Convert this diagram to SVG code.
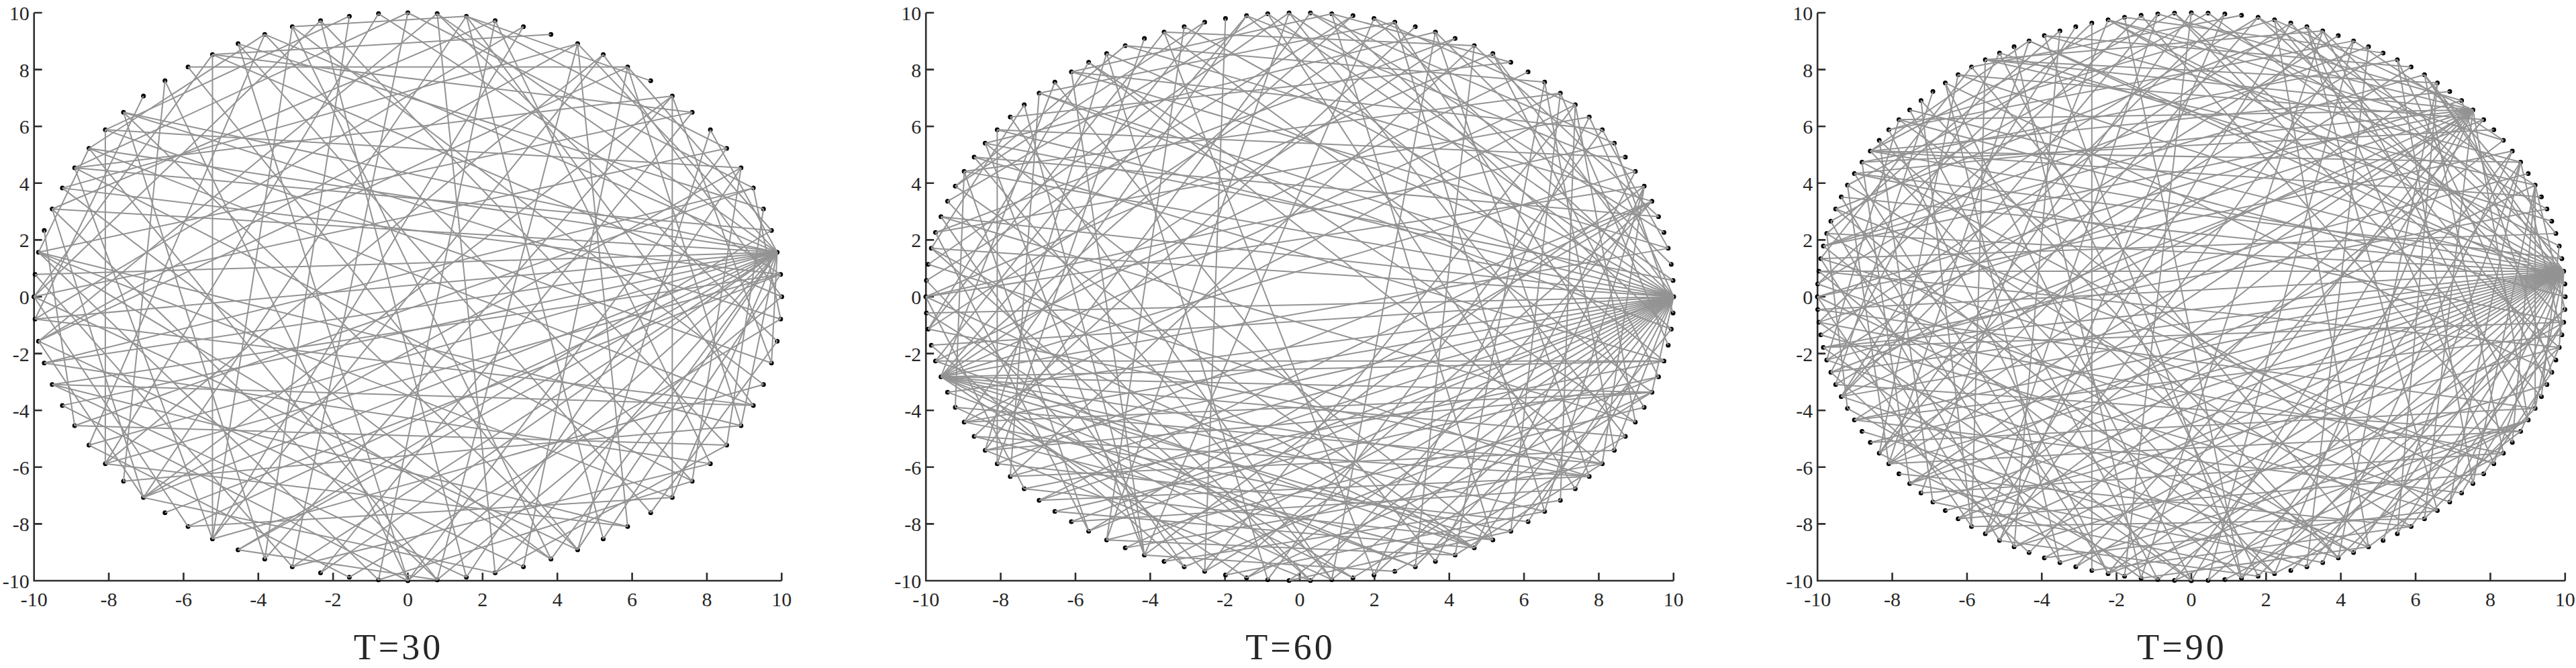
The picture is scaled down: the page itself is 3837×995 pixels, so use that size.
<svg xmlns="http://www.w3.org/2000/svg" width="3837" height="995" viewBox="0 0 3837 995">
<style>
path{vector-effect:non-scaling-stroke}
.ax{fill:none;stroke:#2e2e2e;stroke-width:2.6}
.e{fill:none;stroke:#939393;stroke-width:2}
.n{fill:none;stroke:#000;stroke-width:7;stroke-linecap:round}
.tk{font-family:"Liberation Serif","Times New Roman",serif;font-size:30px;fill:#262626}
.yl{text-anchor:end}
.xl{text-anchor:middle}
.ti{font-family:"Liberation Serif","Times New Roman",serif;font-size:54px;fill:#262626;letter-spacing:4px;text-anchor:middle}
</style>
<defs>
<path id="d" d="M1 0h0"/>
<path id="a1" d="M1 0L.99692 .07846"/><path id="a2" d="M1 0L.98769 .15643"/><path id="a3" d="M1 0L.97237 .23345"/><path id="a4" d="M1 0L.95106 .30902"/><path id="a5" d="M1 0L.92388 .38268"/><path id="a6" d="M1 0L.89101 .45399"/><path id="a7" d="M1 0L.85264 .52250"/><path id="a8" d="M1 0L.80902 .58779"/><path id="a9" d="M1 0L.76041 .64945"/><path id="a10" d="M1 0L.70711 .70711"/>
<path id="a11" d="M1 0L.64945 .76041"/><path id="a12" d="M1 0L.58779 .80902"/><path id="a13" d="M1 0L.52250 .85264"/><path id="a14" d="M1 0L.45399 .89101"/><path id="a15" d="M1 0L.38268 .92388"/><path id="a16" d="M1 0L.30902 .95106"/><path id="a17" d="M1 0L.23345 .97237"/><path id="a18" d="M1 0L.15643 .98769"/><path id="a19" d="M1 0L.07846 .99692"/><path id="a20" d="M1 0L0 1"/>
<path id="a21" d="M1 0L-.07846 .99692"/><path id="a22" d="M1 0L-.15643 .98769"/><path id="a23" d="M1 0L-.23345 .97237"/><path id="a24" d="M1 0L-.30902 .95106"/><path id="a25" d="M1 0L-.38268 .92388"/><path id="a26" d="M1 0L-.45399 .89101"/><path id="a27" d="M1 0L-.52250 .85264"/><path id="a28" d="M1 0L-.58779 .80902"/><path id="a29" d="M1 0L-.64945 .76041"/><path id="a30" d="M1 0L-.70711 .70711"/>
<path id="a31" d="M1 0L-.76041 .64945"/><path id="a32" d="M1 0L-.80902 .58779"/><path id="a33" d="M1 0L-.85264 .52250"/><path id="a34" d="M1 0L-.89101 .45399"/><path id="a35" d="M1 0L-.92388 .38268"/><path id="a36" d="M1 0L-.95106 .30902"/><path id="a37" d="M1 0L-.97237 .23345"/><path id="a38" d="M1 0L-.98769 .15643"/><path id="a39" d="M1 0L-.99692 .07846"/><path id="a40" d="M1 0L-1 0"/>
<path id="b1" d="M1 0L.99837 .05709"/><path id="b2" d="M1 0L.99348 .11399"/><path id="b3" d="M1 0L.98535 .17052"/><path id="b4" d="M1 0L.97401 .22650"/><path id="b5" d="M1 0L.95949 .28173"/><path id="b6" d="M1 0L.94184 .33605"/><path id="b7" d="M1 0L.92112 .38927"/><path id="b8" d="M1 0L.89740 .44122"/><path id="b9" d="M1 0L.87075 .49173"/><path id="b10" d="M1 0L.84125 .54064"/>
<path id="b11" d="M1 0L.80902 .58779"/><path id="b12" d="M1 0L.77414 .63301"/><path id="b13" d="M1 0L.73674 .67618"/><path id="b14" d="M1 0L.69694 .71713"/><path id="b15" d="M1 0L.65486 .75575"/><path id="b16" d="M1 0L.61065 .79190"/><path id="b17" d="M1 0L.56444 .82547"/><path id="b18" d="M1 0L.51640 .85635"/><path id="b19" d="M1 0L.46667 .88443"/><path id="b20" d="M1 0L.41542 .90963"/>
<path id="b21" d="M1 0L.36281 .93186"/><path id="b22" d="M1 0L.30902 .95106"/><path id="b23" d="M1 0L.25422 .96715"/><path id="b24" d="M1 0L.19859 .98008"/><path id="b25" d="M1 0L.14231 .98982"/><path id="b26" d="M1 0L.08558 .99633"/><path id="b27" d="M1 0L.02856 .99959"/><path id="b28" d="M1 0L-.02856 .99959"/><path id="b29" d="M1 0L-.08558 .99633"/><path id="b30" d="M1 0L-.14231 .98982"/>
<path id="b31" d="M1 0L-.19859 .98008"/><path id="b32" d="M1 0L-.25422 .96715"/><path id="b33" d="M1 0L-.30902 .95106"/><path id="b34" d="M1 0L-.36281 .93186"/><path id="b35" d="M1 0L-.41542 .90963"/><path id="b36" d="M1 0L-.46667 .88443"/><path id="b37" d="M1 0L-.51640 .85635"/><path id="b38" d="M1 0L-.56444 .82547"/><path id="b39" d="M1 0L-.61065 .79190"/><path id="b40" d="M1 0L-.65486 .75575"/>
<path id="b41" d="M1 0L-.69694 .71713"/><path id="b42" d="M1 0L-.73674 .67618"/><path id="b43" d="M1 0L-.77414 .63301"/><path id="b44" d="M1 0L-.80902 .58779"/><path id="b45" d="M1 0L-.84125 .54064"/><path id="b46" d="M1 0L-.87075 .49173"/><path id="b47" d="M1 0L-.89740 .44122"/><path id="b48" d="M1 0L-.92112 .38927"/><path id="b49" d="M1 0L-.94184 .33605"/><path id="b50" d="M1 0L-.95949 .28173"/>
<path id="b51" d="M1 0L-.97401 .22650"/><path id="b52" d="M1 0L-.98535 .17052"/><path id="b53" d="M1 0L-.99348 .11399"/><path id="b54" d="M1 0L-.99837 .05709"/><path id="b55" d="M1 0L-1 0"/>
<path id="c1" d="M1 0L.99899 .04486"/><path id="c2" d="M1 0L.99597 .08964"/><path id="c3" d="M1 0L.99095 .13423"/><path id="c4" d="M1 0L.98393 .17856"/><path id="c5" d="M1 0L.97493 .22252"/><path id="c6" d="M1 0L.96396 .26604"/><path id="c7" d="M1 0L.95106 .30902"/><path id="c8" d="M1 0L.93624 .35138"/><path id="c9" d="M1 0L.91953 .39303"/><path id="c10" d="M1 0L.90097 .43388"/>
<path id="c11" d="M1 0L.88060 .47387"/><path id="c12" d="M1 0L.85845 .51290"/><path id="c13" d="M1 0L.83457 .55090"/><path id="c14" d="M1 0L.80902 .58779"/><path id="c15" d="M1 0L.78183 .62349"/><path id="c16" d="M1 0L.75307 .65794"/><path id="c17" d="M1 0L.72280 .69106"/><path id="c18" d="M1 0L.69106 .72280"/><path id="c19" d="M1 0L.65794 .75307"/><path id="c20" d="M1 0L.62349 .78183"/>
<path id="c21" d="M1 0L.58779 .80902"/><path id="c22" d="M1 0L.55090 .83457"/><path id="c23" d="M1 0L.51290 .85845"/><path id="c24" d="M1 0L.47387 .88060"/><path id="c25" d="M1 0L.43388 .90097"/><path id="c26" d="M1 0L.39303 .91953"/><path id="c27" d="M1 0L.35138 .93624"/><path id="c28" d="M1 0L.30902 .95106"/><path id="c29" d="M1 0L.26604 .96396"/><path id="c30" d="M1 0L.22252 .97493"/>
<path id="c31" d="M1 0L.17856 .98393"/><path id="c32" d="M1 0L.13423 .99095"/><path id="c33" d="M1 0L.08964 .99597"/><path id="c34" d="M1 0L.04486 .99899"/><path id="c35" d="M1 0L0 1"/><path id="c36" d="M1 0L-.04486 .99899"/><path id="c37" d="M1 0L-.08964 .99597"/><path id="c38" d="M1 0L-.13423 .99095"/><path id="c39" d="M1 0L-.17856 .98393"/><path id="c40" d="M1 0L-.22252 .97493"/>
<path id="c41" d="M1 0L-.26604 .96396"/><path id="c42" d="M1 0L-.30902 .95106"/><path id="c43" d="M1 0L-.35138 .93624"/><path id="c44" d="M1 0L-.39303 .91953"/><path id="c45" d="M1 0L-.43388 .90097"/><path id="c46" d="M1 0L-.47387 .88060"/><path id="c47" d="M1 0L-.51290 .85845"/><path id="c48" d="M1 0L-.55090 .83457"/><path id="c49" d="M1 0L-.58779 .80902"/><path id="c50" d="M1 0L-.62349 .78183"/>
<path id="c51" d="M1 0L-.65794 .75307"/><path id="c52" d="M1 0L-.69106 .72280"/><path id="c53" d="M1 0L-.72280 .69106"/><path id="c54" d="M1 0L-.75307 .65794"/><path id="c55" d="M1 0L-.78183 .62349"/><path id="c56" d="M1 0L-.80902 .58779"/><path id="c57" d="M1 0L-.83457 .55090"/><path id="c58" d="M1 0L-.85845 .51290"/><path id="c59" d="M1 0L-.88060 .47387"/><path id="c60" d="M1 0L-.90097 .43388"/>
<path id="c61" d="M1 0L-.91953 .39303"/><path id="c62" d="M1 0L-.93624 .35138"/><path id="c63" d="M1 0L-.95106 .30902"/><path id="c64" d="M1 0L-.96396 .26604"/><path id="c65" d="M1 0L-.97493 .22252"/><path id="c66" d="M1 0L-.98393 .17856"/><path id="c67" d="M1 0L-.99095 .13423"/><path id="c68" d="M1 0L-.99597 .08964"/><path id="c69" d="M1 0L-.99899 .04486"/><path id="c70" d="M1 0L-1 0"/>
</defs>

<g id="axes-T30">
<path class="ax" d="M50.7 19V865H1164.3M50.7 19h12M50.7 103.6h12M50.7 188.2h12M50.7 272.8h12M50.7 357.4h12M50.7 442h12M50.7 526.6h12M50.7 611.2h12M50.7 695.8h12M50.7 780.4h12M162.06 865v-12M273.42 865v-12M384.78 865v-12M496.14 865v-12M607.5 865v-12M718.86 865v-12M830.22 865v-12M941.58 865v-12M1052.94 865v-12M1164.3 865v-12"/>
<g class="tk yl"><text x="43.7" y="30">10</text><text x="43.7" y="114.6">8</text><text x="43.7" y="199.2">6</text><text x="43.7" y="283.8">4</text><text x="43.7" y="368.4">2</text><text x="43.7" y="453">0</text><text x="43.7" y="537.6">-2</text><text x="43.7" y="622.2">-4</text><text x="43.7" y="706.8">-6</text><text x="43.7" y="791.4">-8</text><text x="43.7" y="876">-10</text></g>
<g class="tk xl"><text x="50.7" y="903">-10</text><text x="162.06" y="903">-8</text><text x="273.42" y="903">-6</text><text x="384.78" y="903">-4</text><text x="496.14" y="903">-2</text><text x="607.5" y="903">0</text><text x="718.86" y="903">2</text><text x="830.22" y="903">4</text><text x="941.58" y="903">6</text><text x="1052.94" y="903">8</text><text x="1164.3" y="903">10</text></g>
<text class="ti" x="593.5" y="982">T=30</text>
</g>
<g id="axes-T60" transform="translate(1328.5 0)">
<path class="ax" d="M50.7 19V865H1164.3M50.7 19h12M50.7 103.6h12M50.7 188.2h12M50.7 272.8h12M50.7 357.4h12M50.7 442h12M50.7 526.6h12M50.7 611.2h12M50.7 695.8h12M50.7 780.4h12M162.06 865v-12M273.42 865v-12M384.78 865v-12M496.14 865v-12M607.5 865v-12M718.86 865v-12M830.22 865v-12M941.58 865v-12M1052.94 865v-12M1164.3 865v-12"/>
<g class="tk yl"><text x="43.7" y="30">10</text><text x="43.7" y="114.6">8</text><text x="43.7" y="199.2">6</text><text x="43.7" y="283.8">4</text><text x="43.7" y="368.4">2</text><text x="43.7" y="453">0</text><text x="43.7" y="537.6">-2</text><text x="43.7" y="622.2">-4</text><text x="43.7" y="706.8">-6</text><text x="43.7" y="791.4">-8</text><text x="43.7" y="876">-10</text></g>
<g class="tk xl"><text x="50.7" y="903">-10</text><text x="162.06" y="903">-8</text><text x="273.42" y="903">-6</text><text x="384.78" y="903">-4</text><text x="496.14" y="903">-2</text><text x="607.5" y="903">0</text><text x="718.86" y="903">2</text><text x="830.22" y="903">4</text><text x="941.58" y="903">6</text><text x="1052.94" y="903">8</text><text x="1164.3" y="903">10</text></g>
<text class="ti" x="593.5" y="982">T=60</text>
</g>
<g id="axes-T90" transform="translate(2656.5 0)">
<path class="ax" d="M50.7 19V865H1164.3M50.7 19h12M50.7 103.6h12M50.7 188.2h12M50.7 272.8h12M50.7 357.4h12M50.7 442h12M50.7 526.6h12M50.7 611.2h12M50.7 695.8h12M50.7 780.4h12M162.06 865v-12M273.42 865v-12M384.78 865v-12M496.14 865v-12M607.5 865v-12M718.86 865v-12M830.22 865v-12M941.58 865v-12M1052.94 865v-12M1164.3 865v-12"/>
<g class="tk yl"><text x="43.7" y="30">10</text><text x="43.7" y="114.6">8</text><text x="43.7" y="199.2">6</text><text x="43.7" y="283.8">4</text><text x="43.7" y="368.4">2</text><text x="43.7" y="453">0</text><text x="43.7" y="537.6">-2</text><text x="43.7" y="622.2">-4</text><text x="43.7" y="706.8">-6</text><text x="43.7" y="791.4">-8</text><text x="43.7" y="876">-10</text></g>
<g class="tk xl"><text x="50.7" y="903">-10</text><text x="162.06" y="903">-8</text><text x="273.42" y="903">-6</text><text x="384.78" y="903">-4</text><text x="496.14" y="903">-2</text><text x="607.5" y="903">0</text><text x="718.86" y="903">2</text><text x="830.22" y="903">4</text><text x="941.58" y="903">6</text><text x="1052.94" y="903">8</text><text x="1164.3" y="903">10</text></g>
<text class="ti" x="593.5" y="982">T=90</text>
</g>

<g id="nodes-T30" class="n" transform="translate(607.5 442) scale(557 -423)">
<use id="t30n0" href="#d"/><use id="t30n1" href="#d" transform="rotate(4.5)"/><use id="t30n2" href="#d" transform="rotate(9)"/><use id="t30n3" href="#d" transform="rotate(13.5)"/><use id="t30n4" href="#d" transform="rotate(18)"/><use id="t30n5" href="#d" transform="rotate(22.5)"/><use id="t30n6" href="#d" transform="rotate(27)"/><use id="t30n7" href="#d" transform="rotate(31.5)"/><use id="t30n8" href="#d" transform="rotate(36)"/><use id="t30n9" href="#d" transform="rotate(40.5)"/>
<use id="t30n10" href="#d" transform="rotate(45)"/><use id="t30n11" href="#d" transform="rotate(49.5)"/><use id="t30n12" href="#d" transform="rotate(54)"/><use id="t30n13" href="#d" transform="rotate(58.5)"/><use id="t30n14" href="#d" transform="rotate(63)"/><use id="t30n15" href="#d" transform="rotate(67.5)"/><use id="t30n16" href="#d" transform="rotate(72)"/><use id="t30n17" href="#d" transform="rotate(76.5)"/><use id="t30n18" href="#d" transform="rotate(81)"/><use id="t30n19" href="#d" transform="rotate(85.5)"/>
<use id="t30n20" href="#d" transform="rotate(90)"/><use id="t30n21" href="#d" transform="rotate(94.5)"/><use id="t30n22" href="#d" transform="rotate(99)"/><use id="t30n23" href="#d" transform="rotate(103.5)"/><use id="t30n24" href="#d" transform="rotate(108)"/><use id="t30n25" href="#d" transform="rotate(112.5)"/><use id="t30n26" href="#d" transform="rotate(117)"/><use id="t30n27" href="#d" transform="rotate(121.5)"/><use id="t30n28" href="#d" transform="rotate(126)"/><use id="t30n29" href="#d" transform="rotate(130.5)"/>
<use id="t30n30" href="#d" transform="rotate(135)"/><use id="t30n31" href="#d" transform="rotate(139.5)"/><use id="t30n32" href="#d" transform="rotate(144)"/><use id="t30n33" href="#d" transform="rotate(148.5)"/><use id="t30n34" href="#d" transform="rotate(153)"/><use id="t30n35" href="#d" transform="rotate(157.5)"/><use id="t30n36" href="#d" transform="rotate(162)"/><use id="t30n37" href="#d" transform="rotate(166.5)"/><use id="t30n38" href="#d" transform="rotate(171)"/><use id="t30n39" href="#d" transform="rotate(175.5)"/>
<use id="t30n40" href="#d" transform="rotate(180)"/><use id="t30n41" href="#d" transform="rotate(184.5)"/><use id="t30n42" href="#d" transform="rotate(189)"/><use id="t30n43" href="#d" transform="rotate(193.5)"/><use id="t30n44" href="#d" transform="rotate(198)"/><use id="t30n45" href="#d" transform="rotate(202.5)"/><use id="t30n46" href="#d" transform="rotate(207)"/><use id="t30n47" href="#d" transform="rotate(211.5)"/><use id="t30n48" href="#d" transform="rotate(216)"/><use id="t30n49" href="#d" transform="rotate(220.5)"/>
<use id="t30n50" href="#d" transform="rotate(225)"/><use id="t30n51" href="#d" transform="rotate(229.5)"/><use id="t30n52" href="#d" transform="rotate(234)"/><use id="t30n53" href="#d" transform="rotate(238.5)"/><use id="t30n54" href="#d" transform="rotate(243)"/><use id="t30n55" href="#d" transform="rotate(247.5)"/><use id="t30n56" href="#d" transform="rotate(252)"/><use id="t30n57" href="#d" transform="rotate(256.5)"/><use id="t30n58" href="#d" transform="rotate(261)"/><use id="t30n59" href="#d" transform="rotate(265.5)"/>
<use id="t30n60" href="#d" transform="rotate(270)"/><use id="t30n61" href="#d" transform="rotate(274.5)"/><use id="t30n62" href="#d" transform="rotate(279)"/><use id="t30n63" href="#d" transform="rotate(283.5)"/><use id="t30n64" href="#d" transform="rotate(288)"/><use id="t30n65" href="#d" transform="rotate(292.5)"/><use id="t30n66" href="#d" transform="rotate(297)"/><use id="t30n67" href="#d" transform="rotate(301.5)"/><use id="t30n68" href="#d" transform="rotate(306)"/><use id="t30n69" href="#d" transform="rotate(310.5)"/>
<use id="t30n70" href="#d" transform="rotate(315)"/><use id="t30n71" href="#d" transform="rotate(319.5)"/><use id="t30n72" href="#d" transform="rotate(324)"/><use id="t30n73" href="#d" transform="rotate(328.5)"/><use id="t30n74" href="#d" transform="rotate(333)"/><use id="t30n75" href="#d" transform="rotate(337.5)"/><use id="t30n76" href="#d" transform="rotate(342)"/><use id="t30n77" href="#d" transform="rotate(346.5)"/><use id="t30n78" href="#d" transform="rotate(351)"/><use id="t30n79" href="#d" transform="rotate(355.5)"/>
</g>

<g id="nodes-T60" class="n" transform="translate(1936 442) scale(557 -423)">
<use id="t60n0" href="#d"/><use id="t60n1" href="#d" transform="rotate(3.273)"/><use id="t60n2" href="#d" transform="rotate(6.545)"/><use id="t60n3" href="#d" transform="rotate(9.818)"/><use id="t60n4" href="#d" transform="rotate(13.091)"/><use id="t60n5" href="#d" transform="rotate(16.364)"/><use id="t60n6" href="#d" transform="rotate(19.636)"/><use id="t60n7" href="#d" transform="rotate(22.909)"/><use id="t60n8" href="#d" transform="rotate(26.182)"/><use id="t60n9" href="#d" transform="rotate(29.455)"/>
<use id="t60n10" href="#d" transform="rotate(32.727)"/><use id="t60n11" href="#d" transform="rotate(36)"/><use id="t60n12" href="#d" transform="rotate(39.273)"/><use id="t60n13" href="#d" transform="rotate(42.545)"/><use id="t60n14" href="#d" transform="rotate(45.818)"/><use id="t60n15" href="#d" transform="rotate(49.091)"/><use id="t60n16" href="#d" transform="rotate(52.364)"/><use id="t60n17" href="#d" transform="rotate(55.636)"/><use id="t60n18" href="#d" transform="rotate(58.909)"/><use id="t60n19" href="#d" transform="rotate(62.182)"/>
<use id="t60n20" href="#d" transform="rotate(65.455)"/><use id="t60n21" href="#d" transform="rotate(68.727)"/><use id="t60n22" href="#d" transform="rotate(72)"/><use id="t60n23" href="#d" transform="rotate(75.273)"/><use id="t60n24" href="#d" transform="rotate(78.545)"/><use id="t60n25" href="#d" transform="rotate(81.818)"/><use id="t60n26" href="#d" transform="rotate(85.091)"/><use id="t60n27" href="#d" transform="rotate(88.364)"/><use id="t60n28" href="#d" transform="rotate(91.636)"/><use id="t60n29" href="#d" transform="rotate(94.909)"/>
<use id="t60n30" href="#d" transform="rotate(98.182)"/><use id="t60n31" href="#d" transform="rotate(101.455)"/><use id="t60n32" href="#d" transform="rotate(104.727)"/><use id="t60n33" href="#d" transform="rotate(108)"/><use id="t60n34" href="#d" transform="rotate(111.273)"/><use id="t60n35" href="#d" transform="rotate(114.545)"/><use id="t60n36" href="#d" transform="rotate(117.818)"/><use id="t60n37" href="#d" transform="rotate(121.091)"/><use id="t60n38" href="#d" transform="rotate(124.364)"/><use id="t60n39" href="#d" transform="rotate(127.636)"/>
<use id="t60n40" href="#d" transform="rotate(130.909)"/><use id="t60n41" href="#d" transform="rotate(134.182)"/><use id="t60n42" href="#d" transform="rotate(137.455)"/><use id="t60n43" href="#d" transform="rotate(140.727)"/><use id="t60n44" href="#d" transform="rotate(144)"/><use id="t60n45" href="#d" transform="rotate(147.273)"/><use id="t60n46" href="#d" transform="rotate(150.545)"/><use id="t60n47" href="#d" transform="rotate(153.818)"/><use id="t60n48" href="#d" transform="rotate(157.091)"/><use id="t60n49" href="#d" transform="rotate(160.364)"/>
<use id="t60n50" href="#d" transform="rotate(163.636)"/><use id="t60n51" href="#d" transform="rotate(166.909)"/><use id="t60n52" href="#d" transform="rotate(170.182)"/><use id="t60n53" href="#d" transform="rotate(173.455)"/><use id="t60n54" href="#d" transform="rotate(176.727)"/><use id="t60n55" href="#d" transform="rotate(180)"/><use id="t60n56" href="#d" transform="rotate(183.273)"/><use id="t60n57" href="#d" transform="rotate(186.545)"/><use id="t60n58" href="#d" transform="rotate(189.818)"/><use id="t60n59" href="#d" transform="rotate(193.091)"/>
<use id="t60n60" href="#d" transform="rotate(196.364)"/><use id="t60n61" href="#d" transform="rotate(199.636)"/><use id="t60n62" href="#d" transform="rotate(202.909)"/><use id="t60n63" href="#d" transform="rotate(206.182)"/><use id="t60n64" href="#d" transform="rotate(209.455)"/><use id="t60n65" href="#d" transform="rotate(212.727)"/><use id="t60n66" href="#d" transform="rotate(216)"/><use id="t60n67" href="#d" transform="rotate(219.273)"/><use id="t60n68" href="#d" transform="rotate(222.545)"/><use id="t60n69" href="#d" transform="rotate(225.818)"/>
<use id="t60n70" href="#d" transform="rotate(229.091)"/><use id="t60n71" href="#d" transform="rotate(232.364)"/><use id="t60n72" href="#d" transform="rotate(235.636)"/><use id="t60n73" href="#d" transform="rotate(238.909)"/><use id="t60n74" href="#d" transform="rotate(242.182)"/><use id="t60n75" href="#d" transform="rotate(245.455)"/><use id="t60n76" href="#d" transform="rotate(248.727)"/><use id="t60n77" href="#d" transform="rotate(252)"/><use id="t60n78" href="#d" transform="rotate(255.273)"/><use id="t60n79" href="#d" transform="rotate(258.545)"/>
<use id="t60n80" href="#d" transform="rotate(261.818)"/><use id="t60n81" href="#d" transform="rotate(265.091)"/><use id="t60n82" href="#d" transform="rotate(268.364)"/><use id="t60n83" href="#d" transform="rotate(271.636)"/><use id="t60n84" href="#d" transform="rotate(274.909)"/><use id="t60n85" href="#d" transform="rotate(278.182)"/><use id="t60n86" href="#d" transform="rotate(281.455)"/><use id="t60n87" href="#d" transform="rotate(284.727)"/><use id="t60n88" href="#d" transform="rotate(288)"/><use id="t60n89" href="#d" transform="rotate(291.273)"/>
<use id="t60n90" href="#d" transform="rotate(294.545)"/><use id="t60n91" href="#d" transform="rotate(297.818)"/><use id="t60n92" href="#d" transform="rotate(301.091)"/><use id="t60n93" href="#d" transform="rotate(304.364)"/><use id="t60n94" href="#d" transform="rotate(307.636)"/><use id="t60n95" href="#d" transform="rotate(310.909)"/><use id="t60n96" href="#d" transform="rotate(314.182)"/><use id="t60n97" href="#d" transform="rotate(317.455)"/><use id="t60n98" href="#d" transform="rotate(320.727)"/><use id="t60n99" href="#d" transform="rotate(324)"/>
<use id="t60n100" href="#d" transform="rotate(327.273)"/><use id="t60n101" href="#d" transform="rotate(330.545)"/><use id="t60n102" href="#d" transform="rotate(333.818)"/><use id="t60n103" href="#d" transform="rotate(337.091)"/><use id="t60n104" href="#d" transform="rotate(340.364)"/><use id="t60n105" href="#d" transform="rotate(343.636)"/><use id="t60n106" href="#d" transform="rotate(346.909)"/><use id="t60n107" href="#d" transform="rotate(350.182)"/><use id="t60n108" href="#d" transform="rotate(353.455)"/><use id="t60n109" href="#d" transform="rotate(356.727)"/>
</g>

<g id="nodes-T90" class="n" transform="translate(3264 442) scale(557 -423)">
<use id="t90n0" href="#d"/><use id="t90n1" href="#d" transform="rotate(2.571)"/><use id="t90n2" href="#d" transform="rotate(5.143)"/><use id="t90n3" href="#d" transform="rotate(7.714)"/><use id="t90n4" href="#d" transform="rotate(10.286)"/><use id="t90n5" href="#d" transform="rotate(12.857)"/><use id="t90n6" href="#d" transform="rotate(15.429)"/><use id="t90n7" href="#d" transform="rotate(18)"/><use id="t90n8" href="#d" transform="rotate(20.571)"/><use id="t90n9" href="#d" transform="rotate(23.143)"/>
<use id="t90n10" href="#d" transform="rotate(25.714)"/><use id="t90n11" href="#d" transform="rotate(28.286)"/><use id="t90n12" href="#d" transform="rotate(30.857)"/><use id="t90n13" href="#d" transform="rotate(33.429)"/><use id="t90n14" href="#d" transform="rotate(36)"/><use id="t90n15" href="#d" transform="rotate(38.571)"/><use id="t90n16" href="#d" transform="rotate(41.143)"/><use id="t90n17" href="#d" transform="rotate(43.714)"/><use id="t90n18" href="#d" transform="rotate(46.286)"/><use id="t90n19" href="#d" transform="rotate(48.857)"/>
<use id="t90n20" href="#d" transform="rotate(51.429)"/><use id="t90n21" href="#d" transform="rotate(54)"/><use id="t90n22" href="#d" transform="rotate(56.571)"/><use id="t90n23" href="#d" transform="rotate(59.143)"/><use id="t90n24" href="#d" transform="rotate(61.714)"/><use id="t90n25" href="#d" transform="rotate(64.286)"/><use id="t90n26" href="#d" transform="rotate(66.857)"/><use id="t90n27" href="#d" transform="rotate(69.429)"/><use id="t90n28" href="#d" transform="rotate(72)"/><use id="t90n29" href="#d" transform="rotate(74.571)"/>
<use id="t90n30" href="#d" transform="rotate(77.143)"/><use id="t90n31" href="#d" transform="rotate(79.714)"/><use id="t90n32" href="#d" transform="rotate(82.286)"/><use id="t90n33" href="#d" transform="rotate(84.857)"/><use id="t90n34" href="#d" transform="rotate(87.429)"/><use id="t90n35" href="#d" transform="rotate(90)"/><use id="t90n36" href="#d" transform="rotate(92.571)"/><use id="t90n37" href="#d" transform="rotate(95.143)"/><use id="t90n38" href="#d" transform="rotate(97.714)"/><use id="t90n39" href="#d" transform="rotate(100.286)"/>
<use id="t90n40" href="#d" transform="rotate(102.857)"/><use id="t90n41" href="#d" transform="rotate(105.429)"/><use id="t90n42" href="#d" transform="rotate(108)"/><use id="t90n43" href="#d" transform="rotate(110.571)"/><use id="t90n44" href="#d" transform="rotate(113.143)"/><use id="t90n45" href="#d" transform="rotate(115.714)"/><use id="t90n46" href="#d" transform="rotate(118.286)"/><use id="t90n47" href="#d" transform="rotate(120.857)"/><use id="t90n48" href="#d" transform="rotate(123.429)"/><use id="t90n49" href="#d" transform="rotate(126)"/>
<use id="t90n50" href="#d" transform="rotate(128.571)"/><use id="t90n51" href="#d" transform="rotate(131.143)"/><use id="t90n52" href="#d" transform="rotate(133.714)"/><use id="t90n53" href="#d" transform="rotate(136.286)"/><use id="t90n54" href="#d" transform="rotate(138.857)"/><use id="t90n55" href="#d" transform="rotate(141.429)"/><use id="t90n56" href="#d" transform="rotate(144)"/><use id="t90n57" href="#d" transform="rotate(146.571)"/><use id="t90n58" href="#d" transform="rotate(149.143)"/><use id="t90n59" href="#d" transform="rotate(151.714)"/>
<use id="t90n60" href="#d" transform="rotate(154.286)"/><use id="t90n61" href="#d" transform="rotate(156.857)"/><use id="t90n62" href="#d" transform="rotate(159.429)"/><use id="t90n63" href="#d" transform="rotate(162)"/><use id="t90n64" href="#d" transform="rotate(164.571)"/><use id="t90n65" href="#d" transform="rotate(167.143)"/><use id="t90n66" href="#d" transform="rotate(169.714)"/><use id="t90n67" href="#d" transform="rotate(172.286)"/><use id="t90n68" href="#d" transform="rotate(174.857)"/><use id="t90n69" href="#d" transform="rotate(177.429)"/>
<use id="t90n70" href="#d" transform="rotate(180)"/><use id="t90n71" href="#d" transform="rotate(182.571)"/><use id="t90n72" href="#d" transform="rotate(185.143)"/><use id="t90n73" href="#d" transform="rotate(187.714)"/><use id="t90n74" href="#d" transform="rotate(190.286)"/><use id="t90n75" href="#d" transform="rotate(192.857)"/><use id="t90n76" href="#d" transform="rotate(195.429)"/><use id="t90n77" href="#d" transform="rotate(198)"/><use id="t90n78" href="#d" transform="rotate(200.571)"/><use id="t90n79" href="#d" transform="rotate(203.143)"/>
<use id="t90n80" href="#d" transform="rotate(205.714)"/><use id="t90n81" href="#d" transform="rotate(208.286)"/><use id="t90n82" href="#d" transform="rotate(210.857)"/><use id="t90n83" href="#d" transform="rotate(213.429)"/><use id="t90n84" href="#d" transform="rotate(216)"/><use id="t90n85" href="#d" transform="rotate(218.571)"/><use id="t90n86" href="#d" transform="rotate(221.143)"/><use id="t90n87" href="#d" transform="rotate(223.714)"/><use id="t90n88" href="#d" transform="rotate(226.286)"/><use id="t90n89" href="#d" transform="rotate(228.857)"/>
<use id="t90n90" href="#d" transform="rotate(231.429)"/><use id="t90n91" href="#d" transform="rotate(234)"/><use id="t90n92" href="#d" transform="rotate(236.571)"/><use id="t90n93" href="#d" transform="rotate(239.143)"/><use id="t90n94" href="#d" transform="rotate(241.714)"/><use id="t90n95" href="#d" transform="rotate(244.286)"/><use id="t90n96" href="#d" transform="rotate(246.857)"/><use id="t90n97" href="#d" transform="rotate(249.429)"/><use id="t90n98" href="#d" transform="rotate(252)"/><use id="t90n99" href="#d" transform="rotate(254.571)"/>
<use id="t90n100" href="#d" transform="rotate(257.143)"/><use id="t90n101" href="#d" transform="rotate(259.714)"/><use id="t90n102" href="#d" transform="rotate(262.286)"/><use id="t90n103" href="#d" transform="rotate(264.857)"/><use id="t90n104" href="#d" transform="rotate(267.429)"/><use id="t90n105" href="#d" transform="rotate(270)"/><use id="t90n106" href="#d" transform="rotate(272.571)"/><use id="t90n107" href="#d" transform="rotate(275.143)"/><use id="t90n108" href="#d" transform="rotate(277.714)"/><use id="t90n109" href="#d" transform="rotate(280.286)"/>
<use id="t90n110" href="#d" transform="rotate(282.857)"/><use id="t90n111" href="#d" transform="rotate(285.429)"/><use id="t90n112" href="#d" transform="rotate(288)"/><use id="t90n113" href="#d" transform="rotate(290.571)"/><use id="t90n114" href="#d" transform="rotate(293.143)"/><use id="t90n115" href="#d" transform="rotate(295.714)"/><use id="t90n116" href="#d" transform="rotate(298.286)"/><use id="t90n117" href="#d" transform="rotate(300.857)"/><use id="t90n118" href="#d" transform="rotate(303.429)"/><use id="t90n119" href="#d" transform="rotate(306)"/>
<use id="t90n120" href="#d" transform="rotate(308.571)"/><use id="t90n121" href="#d" transform="rotate(311.143)"/><use id="t90n122" href="#d" transform="rotate(313.714)"/><use id="t90n123" href="#d" transform="rotate(316.286)"/><use id="t90n124" href="#d" transform="rotate(318.857)"/><use id="t90n125" href="#d" transform="rotate(321.429)"/><use id="t90n126" href="#d" transform="rotate(324)"/><use id="t90n127" href="#d" transform="rotate(326.571)"/><use id="t90n128" href="#d" transform="rotate(329.143)"/><use id="t90n129" href="#d" transform="rotate(331.714)"/>
<use id="t90n130" href="#d" transform="rotate(334.286)"/><use id="t90n131" href="#d" transform="rotate(336.857)"/><use id="t90n132" href="#d" transform="rotate(339.429)"/><use id="t90n133" href="#d" transform="rotate(342)"/><use id="t90n134" href="#d" transform="rotate(344.571)"/><use id="t90n135" href="#d" transform="rotate(347.143)"/><use id="t90n136" href="#d" transform="rotate(349.714)"/><use id="t90n137" href="#d" transform="rotate(352.286)"/><use id="t90n138" href="#d" transform="rotate(354.857)"/><use id="t90n139" href="#d" transform="rotate(357.429)"/>
</g>

<g id="connectors">
<g id="edges-T30" class="e" transform="translate(607.5 442) scale(557 -423)">
<g><use href="#a13"/><use href="#a27"/></g>
<g transform="rotate(4.5)"><use href="#a20"/><use href="#a34"/></g>
<g transform="rotate(9)"><use href="#a6"/><use href="#a12"/><use href="#a17"/><use href="#a23"/><use href="#a29"/><use href="#a31"/><use href="#a34"/><use href="#a37"/><use href="#a39"/></g>
<g transform="rotate(13.5)"><use href="#a9"/><use href="#a31"/></g>
<g transform="rotate(18)"><use href="#a22"/></g>
<g transform="rotate(22.5)"><use href="#a15"/><use href="#a38"/></g>
<g transform="rotate(27)"><use href="#a26"/></g>
<g transform="rotate(31.5)"><use href="#a11"/><use href="#a33"/></g>
<g transform="rotate(40.5)"><use href="#a18"/><use href="#a29"/></g>
<g transform="rotate(45)"><use href="#a24"/><use href="#a40"/></g>
<g transform="rotate(49.5)"><use href="#a7"/></g>
<g transform="rotate(54)"><use href="#a30"/><use href="#a16"/></g>
<g transform="rotate(58.5)"><use href="#a35"/></g>
<g transform="rotate(63)"><use href="#a21"/><use href="#a28"/></g>
<g transform="rotate(67.5)"><use href="#a12"/></g>
<g transform="rotate(72)"><use href="#a25"/><use href="#a37"/></g>
<g transform="rotate(76.5)"><use href="#a19"/></g>
<g transform="rotate(81)"><use href="#a32"/><use href="#a6"/></g>
<g transform="rotate(85.5)"><use href="#a23"/></g>
<g transform="rotate(90)"><use href="#a14"/><use href="#a36"/></g>
<g transform="rotate(94.5)"><use href="#a27"/></g>
<g transform="rotate(99)"><use href="#a10"/><use href="#a33"/></g>
<g transform="rotate(103.5)"><use href="#a17"/><use href="#a39"/></g>
<g transform="rotate(108)"><use href="#a29"/></g>
<g transform="rotate(112.5)"><use href="#a8"/><use href="#a22"/></g>
<g transform="rotate(117)"><use href="#a34"/></g>
<g transform="rotate(121.5)"><use href="#a13"/><use href="#a26"/></g>
<g transform="rotate(126)"><use href="#a38"/></g>
<g transform="rotate(130.5)"><use href="#a20"/><use href="#a31"/></g>
<g transform="rotate(135)"><use href="#a11"/></g>
<g transform="rotate(139.5)"><use href="#a24"/><use href="#a35"/></g>
<g transform="rotate(144)"><use href="#a16"/></g>
<g transform="rotate(148.5)"><use href="#a28"/><use href="#a5"/></g>
<g transform="rotate(153)"><use href="#a19"/><use href="#a37"/></g>
<g transform="rotate(157.5)"><use href="#a30"/></g>
<g transform="rotate(162)"><use href="#a14"/><use href="#a25"/></g>
<g transform="rotate(166.5)"><use href="#a9"/></g>
<g transform="rotate(171)"><use href="#a21"/><use href="#a32"/><use href="#a27"/><use href="#a36"/></g>
<g transform="rotate(175.5)"><use href="#a17"/></g>
<g transform="rotate(180)"><use href="#a26"/><use href="#a12"/></g>
<g transform="rotate(184.5)"><use href="#a34"/></g>
<g transform="rotate(189)"><use href="#a22"/><use href="#a8"/></g>
<g transform="rotate(193.5)"><use href="#a29"/><use href="#a39"/></g>
<g transform="rotate(198)"><use href="#a18"/><use href="#a31"/><use href="#a24"/><use href="#a37"/></g>
<g transform="rotate(202.5)"><use href="#a15"/><use href="#a37"/></g>
<g transform="rotate(207)"><use href="#a27"/><use href="#a39"/></g>
<g transform="rotate(211.5)"><use href="#a11"/><use href="#a35"/></g>
<g transform="rotate(216)"><use href="#a33"/><use href="#a20"/></g>
<g transform="rotate(220.5)"><use href="#a25"/></g>
<g transform="rotate(225)"><use href="#a13"/><use href="#a36"/><use href="#a32"/></g>
<g transform="rotate(229.5)"><use href="#a30"/></g>
<g transform="rotate(234)"><use href="#a18"/><use href="#a30"/></g>
<g transform="rotate(238.5)"><use href="#a23"/><use href="#a40"/></g>
<g transform="rotate(243)"><use href="#a7"/><use href="#a29"/><use href="#a28"/></g>
<g transform="rotate(247.5)"><use href="#a35"/></g>
<g transform="rotate(252)"><use href="#a16"/><use href="#a26"/></g>
<g transform="rotate(256.5)"><use href="#a32"/><use href="#a25"/></g>
<g transform="rotate(261)"><use href="#a21"/></g>
<g transform="rotate(265.5)"><use href="#a38"/><use href="#a12"/></g>
<g transform="rotate(270)"><use href="#a27"/><use href="#a22"/></g>
<g transform="rotate(274.5)"><use href="#a19"/><use href="#a33"/></g>
<g transform="rotate(279)"><use href="#a24"/></g>
<g transform="rotate(283.5)"><use href="#a10"/><use href="#a36"/><use href="#a19"/></g>
<g transform="rotate(288)"><use href="#a28"/></g>
<g transform="rotate(292.5)"><use href="#a17"/><use href="#a39"/></g>
<g transform="rotate(297)"><use href="#a22"/><use href="#a16"/></g>
<g transform="rotate(301.5)"><use href="#a31"/><use href="#a14"/></g>
<g transform="rotate(306)"><use href="#a26"/></g>
<g transform="rotate(310.5)"><use href="#a9"/><use href="#a37"/></g>
<g transform="rotate(315)"><use href="#a20"/><use href="#a12"/></g>
<g transform="rotate(319.5)"><use href="#a34"/><use href="#a15"/></g>
<g transform="rotate(324)"><use href="#a25"/></g>
<g transform="rotate(328.5)"><use href="#a30"/><use href="#a11"/></g>
<g transform="rotate(333)"><use href="#a18"/><use href="#a8"/></g>
<g transform="rotate(337.5)"><use href="#a38"/><use href="#a23"/></g>
<g transform="rotate(342)"><use href="#a28"/></g>
<g transform="rotate(346.5)"><use href="#a13"/><use href="#a35"/><use href="#a5"/></g>
<g transform="rotate(351)"><use href="#a21"/></g>
<g transform="rotate(355.5)"><use href="#a32"/><use href="#a6"/></g>
</g>

<g id="edges-T60" class="e" transform="translate(1936 442) scale(557 -423)">
<g><use href="#b12"/><use href="#b18"/><use href="#b24"/><use href="#b29"/><use href="#b33"/><use href="#b37"/><use href="#b41"/><use href="#b44"/><use href="#b47"/><use href="#b50"/><use href="#b52"/></g>
<g transform="rotate(3.273)"><use href="#b27"/><use href="#b44"/></g>
<g transform="rotate(6.545)"><use href="#b19"/></g>
<g transform="rotate(9.818)"><use href="#b36"/><use href="#b8"/></g>
<g transform="rotate(13.091)"><use href="#b23"/></g>
<g transform="rotate(16.364)"><use href="#b41"/><use href="#b14"/></g>
<g transform="rotate(19.636)"><use href="#b30"/></g>
<g transform="rotate(22.909)"><use href="#b48"/></g>
<g transform="rotate(26.182)"><use href="#b22"/><use href="#b52"/></g>
<g transform="rotate(29.455)"><use href="#b35"/></g>
<g transform="rotate(32.727)"><use href="#b17"/><use href="#b45"/></g>
<g transform="rotate(36)"><use href="#b28"/></g>
<g transform="rotate(39.273)"><use href="#b39"/></g>
<g transform="rotate(42.545)"><use href="#b11"/><use href="#b50"/></g>
<g transform="rotate(45.818)"><use href="#b33"/><use href="#b46"/></g>
<g transform="rotate(49.091)"><use href="#b21"/></g>
<g transform="rotate(52.364)"><use href="#b43"/></g>
<g transform="rotate(55.636)"><use href="#b26"/><use href="#b9"/></g>
<g transform="rotate(58.909)"><use href="#b37"/></g>
<g transform="rotate(62.182)"><use href="#b15"/><use href="#b48"/></g>
<g transform="rotate(65.455)"><use href="#b31"/><use href="#b40"/></g>
<g transform="rotate(68.727)"><use href="#b24"/></g>
<g transform="rotate(72)"><use href="#b42"/></g>
<g transform="rotate(75.273)"><use href="#b18"/><use href="#b34"/></g>
<g transform="rotate(78.545)"><use href="#b51"/></g>
<g transform="rotate(81.818)"><use href="#b29"/><use href="#b35"/></g>
<g transform="rotate(85.091)"><use href="#b13"/></g>
<g transform="rotate(88.364)"><use href="#b38"/></g>
<g transform="rotate(91.636)"><use href="#b25"/><use href="#b45"/></g>
<g transform="rotate(94.909)"><use href="#b20"/></g>
<g transform="rotate(98.182)"><use href="#b33"/><use href="#b30"/></g>
<g transform="rotate(101.455)"><use href="#b47"/></g>
<g transform="rotate(104.727)"><use href="#b16"/><use href="#b27"/></g>
<g transform="rotate(108)"><use href="#b40"/></g>
<g transform="rotate(111.273)"><use href="#b23"/><use href="#b52"/></g>
<g transform="rotate(114.545)"><use href="#b31"/></g>
<g transform="rotate(117.818)"><use href="#b12"/></g>
<g transform="rotate(121.091)"><use href="#b44"/><use href="#b28"/></g>
<g transform="rotate(124.364)"><use href="#b19"/></g>
<g transform="rotate(127.636)"><use href="#b36"/></g>
<g transform="rotate(130.909)"><use href="#b20"/><use href="#b49"/></g>
<g transform="rotate(134.182)"><use href="#b26"/></g>
<g transform="rotate(137.455)"><use href="#b33"/><use href="#b10"/></g>
<g transform="rotate(140.727)"><use href="#b41"/></g>
<g transform="rotate(144)"><use href="#b22"/></g>
<g transform="rotate(147.273)"><use href="#b30"/><use href="#b47"/></g>
<g transform="rotate(150.545)"><use href="#b38"/></g>
<g transform="rotate(153.818)"><use href="#b15"/><use href="#b25"/></g>
<g transform="rotate(157.091)"><use href="#b43"/></g>
<g transform="rotate(160.364)"><use href="#b34"/></g>
<g transform="rotate(163.636)"><use href="#b27"/><use href="#b52"/></g>
<g transform="rotate(166.909)"><use href="#b21"/></g>
<g transform="rotate(170.182)"><use href="#b39"/><use href="#b31"/></g>
<g transform="rotate(173.455)"><use href="#b45"/></g>
<g transform="rotate(176.727)"><use href="#b24"/></g>
<g transform="rotate(180)"><use href="#b36"/><use href="#b13"/></g>
<g transform="rotate(183.273)"><use href="#b54"/><use href="#b29"/></g>
<g transform="rotate(186.545)"><use href="#b42"/></g>
<g transform="rotate(189.818)"><use href="#b52"/><use href="#b19"/></g>
<g transform="rotate(193.091)"><use href="#b32"/><use href="#b47"/></g>
<g transform="rotate(196.364)"><use href="#b20"/><use href="#b25"/><use href="#b28"/><use href="#b32"/><use href="#b35"/><use href="#b38"/><use href="#b41"/><use href="#b44"/><use href="#b46"/><use href="#b53"/></g>
<g transform="rotate(199.636)"><use href="#b49"/><use href="#b27"/></g>
<g transform="rotate(202.909)"><use href="#b37"/><use href="#b22"/></g>
<g transform="rotate(206.182)"><use href="#b47"/><use href="#b30"/><use href="#b41"/></g>
<g transform="rotate(209.455)"><use href="#b26"/><use href="#b34"/></g>
<g transform="rotate(212.727)"><use href="#b45"/><use href="#b39"/><use href="#b18"/></g>
<g transform="rotate(216)"><use href="#b28"/><use href="#b50"/></g>
<g transform="rotate(219.273)"><use href="#b43"/><use href="#b33"/></g>
<g transform="rotate(222.545)"><use href="#b24"/><use href="#b38"/></g>
<g transform="rotate(225.818)"><use href="#b41"/><use href="#b29"/><use href="#b47"/></g>
<g transform="rotate(229.091)"><use href="#b35"/><use href="#b21"/></g>
<g transform="rotate(232.364)"><use href="#b39"/><use href="#b26"/></g>
<g transform="rotate(235.636)"><use href="#b38"/><use href="#b44"/></g>
<g transform="rotate(238.909)"><use href="#b30"/><use href="#b17"/></g>
<g transform="rotate(242.182)"><use href="#b36"/><use href="#b25"/></g>
<g transform="rotate(245.455)"><use href="#b42"/><use href="#b12"/></g>
<g transform="rotate(248.727)"><use href="#b34"/><use href="#b20"/></g>
<g transform="rotate(252)"><use href="#b28"/></g>
<g transform="rotate(255.273)"><use href="#b32"/><use href="#b45"/></g>
<g transform="rotate(258.545)"><use href="#b16"/><use href="#b37"/></g>
<g transform="rotate(261.818)"><use href="#b30"/><use href="#b24"/></g>
<g transform="rotate(265.091)"><use href="#b40"/></g>
<g transform="rotate(268.364)"><use href="#b28"/><use href="#b11"/></g>
<g transform="rotate(271.636)"><use href="#b33"/></g>
<g transform="rotate(274.909)"><use href="#b26"/><use href="#b47"/></g>
<g transform="rotate(278.182)"><use href="#b19"/></g>
<g transform="rotate(281.455)"><use href="#b24"/><use href="#b36"/></g>
<g transform="rotate(284.727)"><use href="#b14"/></g>
<g transform="rotate(288)"><use href="#b22"/><use href="#b41"/></g>
<g transform="rotate(291.273)"><use href="#b29"/></g>
<g transform="rotate(294.545)"><use href="#b35"/><use href="#b9"/></g>
<g transform="rotate(297.818)"><use href="#b19"/><use href="#b26"/></g>
<g transform="rotate(301.091)"><use href="#b44"/></g>
<g transform="rotate(304.364)"><use href="#b15"/><use href="#b31"/></g>
<g transform="rotate(307.636)"><use href="#b16"/></g>
<g transform="rotate(310.909)"><use href="#b38"/><use href="#b22"/></g>
<g transform="rotate(314.182)"><use href="#b27"/></g>
<g transform="rotate(317.455)"><use href="#b13"/><use href="#b42"/></g>
<g transform="rotate(320.727)"><use href="#b33"/></g>
<g transform="rotate(324)"><use href="#b18"/><use href="#b49"/></g>
<g transform="rotate(327.273)"><use href="#b10"/><use href="#b25"/></g>
<g transform="rotate(330.545)"><use href="#b37"/></g>
<g transform="rotate(333.818)"><use href="#b21"/><use href="#b46"/></g>
<g transform="rotate(337.091)"><use href="#b30"/></g>
<g transform="rotate(340.364)"><use href="#b6"/><use href="#b40"/></g>
<g transform="rotate(343.636)"><use href="#b23"/></g>
<g transform="rotate(346.909)"><use href="#b34"/><use href="#b50"/></g>
<g transform="rotate(350.182)"><use href="#b17"/></g>
<g transform="rotate(353.455)"><use href="#b28"/><use href="#b43"/></g>
<g transform="rotate(356.727)"><use href="#b11"/></g>
</g>

<g id="edges-T90" class="e" transform="translate(3264 442) scale(557 -423)">
<g><use href="#c31"/><use href="#c55"/></g>
<g transform="rotate(2.571)"><use href="#c44"/><use href="#c19"/></g>
<g transform="rotate(5.143)"><use href="#c18"/><use href="#c26"/><use href="#c32"/><use href="#c38"/><use href="#c43"/><use href="#c48"/><use href="#c52"/><use href="#c56"/><use href="#c60"/><use href="#c63"/><use href="#c66"/><use href="#c69"/></g>
<g transform="rotate(7.714)"><use href="#c57"/><use href="#c24"/></g>
<g transform="rotate(10.286)"><use href="#c36"/></g>
<g transform="rotate(12.857)"><use href="#c62"/><use href="#c15"/></g>
<g transform="rotate(15.429)"><use href="#c41"/></g>
<g transform="rotate(18)"><use href="#c28"/><use href="#c67"/></g>
<g transform="rotate(20.571)"><use href="#c50"/></g>
<g transform="rotate(23.143)"><use href="#c22"/><use href="#c39"/></g>
<g transform="rotate(25.714)"><use href="#c65"/></g>
<g transform="rotate(28.286)"><use href="#c33"/><use href="#c47"/></g>
<g transform="rotate(30.857)"><use href="#c58"/></g>
<g transform="rotate(33.429)"><use href="#c27"/><use href="#c12"/></g>
<g transform="rotate(36)"><use href="#c45"/></g>
<g transform="rotate(38.571)"><use href="#c61"/><use href="#c35"/></g>
<g transform="rotate(41.143)"><use href="#c14"/><use href="#c24"/><use href="#c32"/><use href="#c39"/><use href="#c44"/><use href="#c50"/><use href="#c56"/><use href="#c62"/><use href="#c68"/><use href="#c70"/></g>
<g transform="rotate(43.714)"><use href="#c53"/><use href="#c20"/></g>
<g transform="rotate(46.286)"><use href="#c40"/></g>
<g transform="rotate(48.857)"><use href="#c64"/><use href="#c29"/></g>
<g transform="rotate(51.429)"><use href="#c46"/></g>
<g transform="rotate(54)"><use href="#c23"/><use href="#c59"/></g>
<g transform="rotate(56.571)"><use href="#c37"/></g>
<g transform="rotate(59.143)"><use href="#c54"/><use href="#c16"/></g>
<g transform="rotate(61.714)"><use href="#c42"/></g>
<g transform="rotate(64.286)"><use href="#c68"/><use href="#c31"/></g>
<g transform="rotate(66.857)"><use href="#c49"/></g>
<g transform="rotate(69.429)"><use href="#c21"/><use href="#c57"/></g>
<g transform="rotate(72)"><use href="#c35"/></g>
<g transform="rotate(74.571)"><use href="#c63"/><use href="#c44"/></g>
<g transform="rotate(77.143)"><use href="#c26"/></g>
<g transform="rotate(79.714)"><use href="#c52"/><use href="#c38"/></g>
<g transform="rotate(82.286)"><use href="#c17"/></g>
<g transform="rotate(84.857)"><use href="#c60"/><use href="#c45"/></g>
<g transform="rotate(87.429)"><use href="#c30"/></g>
<g transform="rotate(90)"><use href="#c48"/><use href="#c66"/></g>
<g transform="rotate(92.571)"><use href="#c25"/></g>
<g transform="rotate(95.143)"><use href="#c55"/><use href="#c41"/></g>
<g transform="rotate(97.714)"><use href="#c34"/></g>
<g transform="rotate(100.286)"><use href="#c69"/><use href="#c19"/></g>
<g transform="rotate(102.857)"><use href="#c47"/></g>
<g transform="rotate(105.429)"><use href="#c28"/><use href="#c58"/></g>
<g transform="rotate(108)"><use href="#c36"/></g>
<g transform="rotate(110.571)"><use href="#c51"/><use href="#c22"/></g>
<g transform="rotate(113.143)"><use href="#c64"/></g>
<g transform="rotate(115.714)"><use href="#c39"/><use href="#c13"/></g>
<g transform="rotate(118.286)"><use href="#c56"/></g>
<g transform="rotate(120.857)"><use href="#c29"/><use href="#c62"/></g>
<g transform="rotate(123.429)"><use href="#c43"/></g>
<g transform="rotate(126)"><use href="#c67"/><use href="#c18"/></g>
<g transform="rotate(128.571)"><use href="#c33"/></g>
<g transform="rotate(131.143)"><use href="#c54"/><use href="#c46"/></g>
<g transform="rotate(133.714)"><use href="#c25"/></g>
<g transform="rotate(136.286)"><use href="#c61"/><use href="#c38"/></g>
<g transform="rotate(138.857)"><use href="#c49"/></g>
<g transform="rotate(141.429)"><use href="#c20"/><use href="#c66"/></g>
<g transform="rotate(144)"><use href="#c44"/></g>
<g transform="rotate(146.571)"><use href="#c57"/><use href="#c31"/></g>
<g transform="rotate(149.143)"><use href="#c52"/></g>
<g transform="rotate(151.714)"><use href="#c27"/><use href="#c65"/></g>
<g transform="rotate(154.286)"><use href="#c40"/></g>
<g transform="rotate(156.857)"><use href="#c58"/><use href="#c23"/></g>
<g transform="rotate(159.429)"><use href="#c35"/></g>
<g transform="rotate(162)"><use href="#c63"/><use href="#c47"/></g>
<g transform="rotate(164.571)"><use href="#c30"/></g>
<g transform="rotate(167.143)"><use href="#c50"/><use href="#c14"/></g>
<g transform="rotate(169.714)"><use href="#c42"/></g>
<g transform="rotate(172.286)"><use href="#c59"/><use href="#c26"/></g>
<g transform="rotate(174.857)"><use href="#c37"/><use href="#c68"/></g>
<g transform="rotate(177.429)"><use href="#c53"/></g>
<g transform="rotate(180)"><use href="#c21"/><use href="#c45"/></g>
<g transform="rotate(182.571)"><use href="#c60"/></g>
<g transform="rotate(185.143)"><use href="#c33"/><use href="#c55"/></g>
<g transform="rotate(187.714)"><use href="#c48"/></g>
<g transform="rotate(190.286)"><use href="#c28"/><use href="#c68"/><use href="#c64"/></g>
<g transform="rotate(192.857)"><use href="#c41"/></g>
<g transform="rotate(195.429)"><use href="#c66"/><use href="#c19"/></g>
<g transform="rotate(198)"><use href="#c52"/></g>
<g transform="rotate(200.571)"><use href="#c36"/><use href="#c64"/></g>
<g transform="rotate(203.143)"><use href="#c24"/></g>
<g transform="rotate(205.714)"><use href="#c57"/><use href="#c62"/><use href="#c43"/></g>
<g transform="rotate(208.286)"><use href="#c31"/></g>
<g transform="rotate(210.857)"><use href="#c60"/><use href="#c49"/></g>
<g transform="rotate(213.429)"><use href="#c18"/></g>
<g transform="rotate(216)"><use href="#c45"/><use href="#c58"/></g>
<g transform="rotate(218.571)"><use href="#c34"/></g>
<g transform="rotate(221.143)"><use href="#c56"/><use href="#c63"/><use href="#c27"/></g>
<g transform="rotate(223.714)"><use href="#c40"/></g>
<g transform="rotate(226.286)"><use href="#c54"/><use href="#c22"/></g>
<g transform="rotate(228.857)"><use href="#c47"/></g>
<g transform="rotate(231.429)"><use href="#c52"/><use href="#c66"/><use href="#c35"/></g>
<g transform="rotate(234)"><use href="#c29"/></g>
<g transform="rotate(236.571)"><use href="#c50"/><use href="#c61"/></g>
<g transform="rotate(239.143)"><use href="#c16"/></g>
<g transform="rotate(241.714)"><use href="#c48"/><use href="#c39"/></g>
<g transform="rotate(244.286)"><use href="#c61"/></g>
<g transform="rotate(246.857)"><use href="#c46"/><use href="#c25"/></g>
<g transform="rotate(249.429)"><use href="#c33"/></g>
<g transform="rotate(252)"><use href="#c44"/><use href="#c57"/></g>
<g transform="rotate(254.571)"><use href="#c20"/></g>
<g transform="rotate(257.143)"><use href="#c42"/><use href="#c56"/><use href="#c30"/></g>
<g transform="rotate(259.714)"><use href="#c37"/></g>
<g transform="rotate(262.286)"><use href="#c65"/><use href="#c14"/></g>
<g transform="rotate(264.857)"><use href="#c39"/></g>
<g transform="rotate(267.429)"><use href="#c26"/><use href="#c48"/></g>
<g transform="rotate(270)"><use href="#c51"/></g>
<g transform="rotate(272.571)"><use href="#c36"/><use href="#c59"/></g>
<g transform="rotate(275.143)"><use href="#c23"/></g>
<g transform="rotate(277.714)"><use href="#c43"/><use href="#c31"/></g>
<g transform="rotate(280.286)"><use href="#c33"/></g>
<g transform="rotate(282.857)"><use href="#c17"/><use href="#c46"/></g>
<g transform="rotate(285.429)"><use href="#c28"/></g>
<g transform="rotate(288)"><use href="#c30"/><use href="#c52"/></g>
<g transform="rotate(290.571)"><use href="#c39"/></g>
<g transform="rotate(293.143)"><use href="#c22"/><use href="#c45"/></g>
<g transform="rotate(295.714)"><use href="#c27"/></g>
<g transform="rotate(298.286)"><use href="#c13"/><use href="#c54"/></g>
<g transform="rotate(300.857)"><use href="#c34"/></g>
<g transform="rotate(303.429)"><use href="#c24"/><use href="#c41"/></g>
<g transform="rotate(306)"><use href="#c19"/></g>
<g transform="rotate(308.571)"><use href="#c36"/><use href="#c11"/></g>
<g transform="rotate(311.143)"><use href="#c47"/></g>
<g transform="rotate(313.714)"><use href="#c20"/><use href="#c29"/></g>
<g transform="rotate(316.286)"><use href="#c15"/></g>
<g transform="rotate(318.857)"><use href="#c38"/><use href="#c25"/></g>
<g transform="rotate(321.429)"><use href="#c9"/></g>
<g transform="rotate(324)"><use href="#c16"/><use href="#c42"/></g>
<g transform="rotate(326.571)"><use href="#c33"/></g>
<g transform="rotate(329.143)"><use href="#c21"/><use href="#c50"/></g>
<g transform="rotate(331.714)"><use href="#c7"/></g>
<g transform="rotate(334.286)"><use href="#c26"/><use href="#c37"/></g>
<g transform="rotate(336.857)"><use href="#c18"/><use href="#c11"/></g>
<g transform="rotate(339.429)"><use href="#c44"/><use href="#c12"/></g>
<g transform="rotate(342)"><use href="#c29"/></g>
<g transform="rotate(344.571)"><use href="#c23"/><use href="#c57"/></g>
<g transform="rotate(347.143)"><use href="#c35"/></g>
<g transform="rotate(349.714)"><use href="#c6"/><use href="#c40"/></g>
<g transform="rotate(352.286)"><use href="#c14"/></g>
<g transform="rotate(354.857)"><use href="#c31"/><use href="#c62"/></g>
<g transform="rotate(357.429)"><use href="#c10"/></g>
</g>
</g>
</svg>
